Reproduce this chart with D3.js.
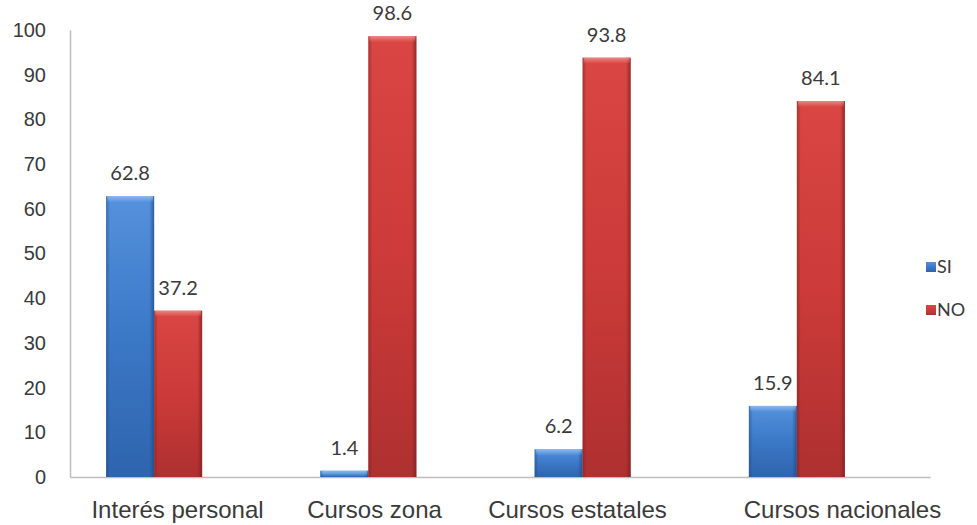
<!DOCTYPE html>
<html>
<head>
<meta charset="utf-8">
<script src="https://cdn.jsdelivr.net/npm/d3@7"></script>
<style>
  html, body { margin: 0; padding: 0; background: #fff; }
  svg { display: block; font-family: Lato, "Open Sans", sans-serif; }
</style>
</head>
<body>
<svg id="chart" width="977" height="525"></svg>
<script>
// Participación en cursos (%)
const categories = ["Interés personal", "Cursos zona", "Cursos estatales", "Cursos nacionales"];
const seriesNames = ["SI", "NO"];
const siValues = [62.8, 1.4, 6.2, 15.9];
const noValues = [37.2, 98.6, 93.8, 84.1];
const yTicks = [0, 10, 20, 30, 40, 50, 60, 70, 80, 90, 100];

const table = categories.map((c, i) => ({ category: c, SI: siValues[i], NO: noValues[i] }));

const svg = d3.select("#chart");

// scales
const y = d3.scaleLinear().domain([0, 100]).range([477, 30]);
const x0 = d3.scaleBand().domain(categories).range([47, 904]).paddingInner(0.552).paddingOuter(0.276);
const x1 = d3.scaleBand().domain(seriesNames).range([0, x0.bandwidth()]).padding(0);
const xAxisScale = d3.scaleBand().domain(categories).range([70, 930]);
const labelShift = [0, -18, -30, 20];

// gradients for the bevelled bars
const defs = svg.append("defs");
const palettes = {
  SI: { top: "#5591dc", mid: "#3b78c6", bot: "#2f64ad", edge: "#1f4a85", hi: "#8fbdf0" },
  NO: { top: "#d94643", mid: "#cc3b39", bot: "#ae3030", edge: "#7e1f1f", hi: "#ef8a86" }
};
seriesNames.forEach(s => {
  const p = palettes[s];
  const gv = defs.append("linearGradient").attr("id", "v-" + s).attr("x1", 0).attr("y1", 0).attr("x2", 0).attr("y2", 1);
  gv.append("stop").attr("offset", "0%").attr("stop-color", p.top);
  gv.append("stop").attr("offset", "50%").attr("stop-color", p.mid);
  gv.append("stop").attr("offset", "100%").attr("stop-color", p.bot);
  const gh = defs.append("linearGradient").attr("id", "h-" + s).attr("x1", 0).attr("y1", 0).attr("x2", 1).attr("y2", 0);
  gh.append("stop").attr("offset", "0%").attr("stop-color", p.edge).attr("stop-opacity", 0.55);
  gh.append("stop").attr("offset", "8%").attr("stop-color", p.edge).attr("stop-opacity", 0);
  gh.append("stop").attr("offset", "90%").attr("stop-color", p.edge).attr("stop-opacity", 0);
  gh.append("stop").attr("offset", "100%").attr("stop-color", p.edge).attr("stop-opacity", 0.75);
  const gt = defs.append("linearGradient").attr("id", "t-" + s).attr("x1", 0).attr("y1", 0).attr("x2", 0).attr("y2", 1);
  gt.append("stop").attr("offset", "0%").attr("stop-color", p.hi).attr("stop-opacity", 0.9);
  gt.append("stop").attr("offset", "100%").attr("stop-color", p.hi).attr("stop-opacity", 0);
});

// axes
const yAxis = d3.axisLeft(y).tickValues(yTicks).tickSize(0).tickPadding(24);
const gy = svg.append("g").attr("transform", "translate(70,0)").call(yAxis);
gy.select(".domain").attr("stroke", "#bdbdbd").attr("stroke-width", 1.5);
gy.selectAll("text").attr("font-size", 20).attr("fill", "#3a3a3a");

const xAxis = d3.axisBottom(xAxisScale).tickSize(0).tickPadding(24).tickSizeOuter(0);
const gx = svg.append("g").attr("transform", "translate(0,477)").call(xAxis);
gx.select(".domain").attr("stroke", "#bdbdbd").attr("stroke-width", 1.5);
gx.selectAll("text")
  .attr("font-size", 24).attr("fill", "#3a3a3a")
  .attr("dx", (d, i) => labelShift[i]);

// bars
const groups = svg.append("g").selectAll("g")
  .data(table).join("g")
  .attr("transform", d => `translate(${x0(d.category)},0)`);

const bars = groups.selectAll("g.bar")
  .data(d => seriesNames.map(s => ({ series: s, value: d[s] })))
  .join("g").attr("class", "bar");

bars.append("rect")
  .attr("x", d => x1(d.series)).attr("width", x1.bandwidth())
  .attr("y", d => y(d.value)).attr("height", d => y(0) - y(d.value))
  .attr("fill", d => `url(#v-${d.series})`);
bars.append("rect")
  .attr("x", d => x1(d.series)).attr("width", x1.bandwidth())
  .attr("y", d => y(d.value)).attr("height", d => y(0) - y(d.value))
  .attr("fill", d => `url(#h-${d.series})`);
bars.append("rect")
  .attr("x", d => x1(d.series) + 1).attr("width", x1.bandwidth() - 2)
  .attr("y", d => y(d.value)).attr("height", d => Math.min(6, y(0) - y(d.value)))
  .attr("fill", d => `url(#t-${d.series})`);

// value labels
bars.append("text")
  .attr("x", d => x1(d.series) + x1.bandwidth() / 2)
  .attr("y", d => y(d.value) - 16)
  .attr("text-anchor", "middle")
  .attr("font-size", 20).attr("fill", "#3a3a3a")
  .text(d => d.value.toFixed(1));

// legend
const legend = svg.append("g").attr("transform", "translate(926,262)");
const li = legend.selectAll("g").data(seriesNames).join("g")
  .attr("transform", (d, i) => `translate(0,${i * 43})`);
li.append("rect").attr("width", 10).attr("height", 10)
  .attr("fill", d => `url(#v-${d})`);
li.append("text").attr("x", 11).attr("y", 11).attr("font-size", 18).attr("fill", "#3a3a3a").text(d => d);
</script>
</body>
</html>
